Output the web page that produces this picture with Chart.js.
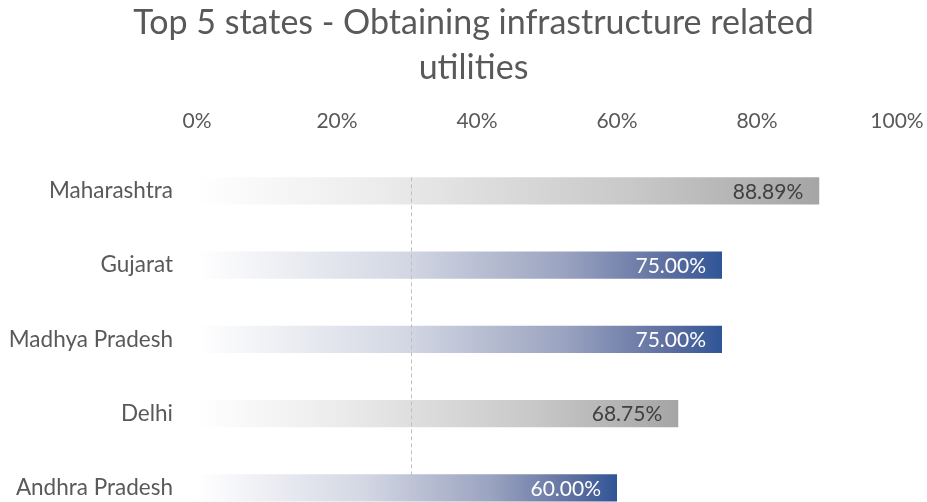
<!DOCTYPE html>
<html>
<head>
<meta charset="utf-8">
<script src="https://cdn.jsdelivr.net/npm/chart.js@4.4.1/dist/chart.umd.min.js"></script>
<style>
    html, body { margin: 0; padding: 0; background: #fff; overflow: hidden; }
    canvas { display: block; }
</style>
</head>
<body>
<canvas id="stateChart" width="927" height="525"></canvas>
<script>
// -------------------- DATA --------------------
const states = ["Maharashtra", "Gujarat", "Madhya Pradesh", "Delhi", "Andhra Pradesh"];
const scores = [88.89, 75.00, 75.00, 68.75, 60.00];
const tickValues = [0, 20, 40, 60, 80, 100];
const refLineValue = 30.6;

// -------------------- STYLE --------------------
const FONT = "Lato";
const TEXT_GREY = "#595959";
const barColors = ["gray", "blue", "blue", "gray", "blue"];
const gradientStops = {
    gray: [[0, "#ffffff"], [0.3, "#ebebeb"], [0.7, "#c8c8c8"], [1, "#a5a5a5"]],
    blue: [[0, "#ffffff"], [0.4, "#d3d7e3"], [0.7, "#9aa3c0"], [0.9, "#5d6e9f"], [1, "#2f5597"]]
};
const labelColors = { gray: "#404040", blue: "#ffffff" };

function barGradient(context) {
    const chart = context.chart;
    const i = context.dataIndex;
    const stops = gradientStops[barColors[i]];
    if (!chart.chartArea || !chart.scales.x) return stops[stops.length - 1][1];
    const x = chart.scales.x;
    const x0 = x.getPixelForValue(0);
    const x1 = x.getPixelForValue(scores[i]);
    const g = chart.ctx.createLinearGradient(x0, 0, x1, 0);
    stops.forEach(s => g.addColorStop(s[0], s[1]));
    return g;
}

// -------------------- PLUGINS --------------------
// let the long state names run into the left padding instead of being clipped
const unclipLabels = {
    id: "unclipLabels",
    beforeDraw(chart) {
        chart.scales.y.left = 0;
    }
};

const refLinePlugin = {
    id: "refLine",
    afterDatasetsDraw(chart) {
        const { ctx } = chart;
        const meta = chart.getDatasetMeta(0);
        const first = meta.data[0];
        const last = meta.data[meta.data.length - 1];
        const x = Math.round(chart.scales.x.getPixelForValue(refLineValue)) + 0.5;
        ctx.save();
        ctx.strokeStyle = "#bfbfbf";
        ctx.lineWidth = 1;
        ctx.setLineDash([4, 3]);
        ctx.beginPath();
        ctx.moveTo(x, first.y - first.height / 2);
        ctx.lineTo(x, last.y + last.height / 2 - 6);
        ctx.stroke();
        ctx.restore();
    }
};

const valueLabelPlugin = {
    id: "valueLabels",
    afterDatasetsDraw(chart) {
        const { ctx } = chart;
        const meta = chart.getDatasetMeta(0);
        ctx.save();
        ctx.font = "21px " + FONT;
        ctx.textAlign = "right";
        ctx.textBaseline = "middle";
        meta.data.forEach((bar, i) => {
            ctx.fillStyle = labelColors[barColors[i]];
            ctx.fillText(scores[i].toFixed(2) + "%", bar.x - 16, bar.y + 1);
        });
        ctx.restore();
    }
};

// -------------------- BUILD CHART --------------------
new Chart(document.getElementById("stateChart"), {
    type: "bar",
    plugins: [unclipLabels, refLinePlugin, valueLabelPlugin],
    data: {
        labels: states,
        datasets: [{
            label: "Obtaining infrastructure related utilities",
            data: scores,
            backgroundColor: barGradient,
            borderWidth: 0,
            barPercentage: 0.364,
            categoryPercentage: 1
        }]
    },
    options: {
        indexAxis: "y",
        responsive: false,
        animation: false,
        layout: {
            padding: { left: 50, right: 30, top: 0, bottom: 0 }
        },
        plugins: {
            legend: { display: false },
            tooltip: { enabled: false },
            title: {
                display: true,
                text: ["Top 5 states - Obtaining infrastructure related", "utilities"],
                color: TEXT_GREY,
                font: { family: FONT, size: 34, weight: "normal", lineHeight: 1.32 },
                padding: { top: 1, bottom: 9 }
            }
        },
        scales: {
            x: {
                position: "top",
                min: 0,
                max: 100,
                afterBuildTicks(scale) {
                    scale.ticks = tickValues.map(v => ({ value: v }));
                },
                afterFit(scale) {
                    scale.paddingLeft = 0;
                    scale.paddingRight = 0;
                    scale.height = 54;
                },
                grid: { display: false, drawTicks: false },
                border: { display: false },
                ticks: {
                    padding: 20,
                    color: TEXT_GREY,
                    font: { family: FONT, size: 21 },
                    callback: v => v + "%"
                }
            },
            y: {
                grid: { display: false, drawTicks: false },
                border: { display: false },
                afterFit(scale) {
                    scale.width = 147;
                    scale.paddingTop = 0;
                    scale.paddingBottom = 0;
                },
                ticks: {
                    padding: 24,
                    color: TEXT_GREY,
                    font: { family: FONT, size: 22.5 }
                }
            }
        }
    }
});
</script>
</body>
</html>
